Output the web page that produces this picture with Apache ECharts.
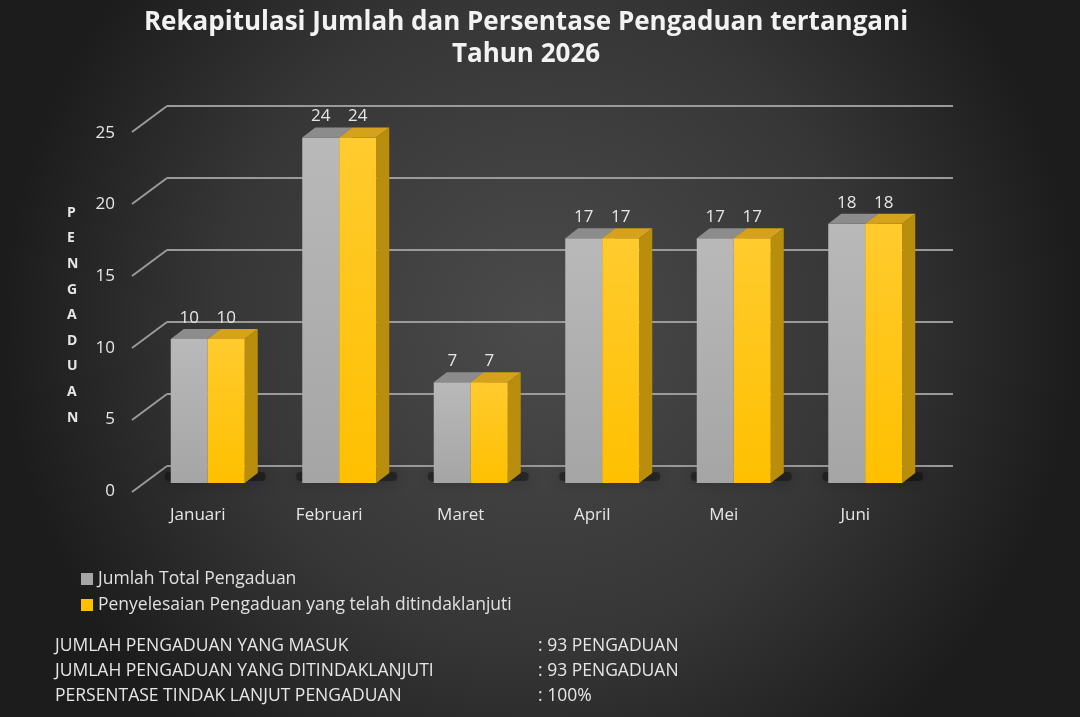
<!DOCTYPE html>
<html><head><meta charset="utf-8">
<script src="https://cdn.jsdelivr.net/npm/echarts@6/dist/echarts.min.js"></script>
<style>html,body{margin:0;padding:0;background:#2a2a2a}#c{width:1080px;height:717px}</style>
</head><body><div id="c"></div>
<script>
const categories = ['Januari','Februari','Maret','April','Mei','Juni'];
const totalPengaduan = [10,24,7,17,17,18];
const ditindaklanjuti = [10,24,7,17,17,18];
const yTicks = [0,5,10,15,20,25];
const seriesNames = ['Jumlah Total Pengaduan','Penyelesaian Pengaduan yang telah ditindaklanjuti'];
const statLabels = ['JUMLAH PENGADUAN YANG MASUK','JUMLAH PENGADUAN YANG DITINDAKLANJUTI','PERSENTASE TINDAK LANJUT PENGADUAN'];
const statValues = [': 93 PENGADUAN',': 93 PENGADUAN',': 100%'];
const titleText = 'Rekapitulasi Jumlah dan Persentase Pengaduan tertangani\nTahun 2026';
const axisTitle = 'PENGADUAN';

const chart = echarts.init(document.getElementById('c'));
const BW = 37, DX = 13, DY = 10;
const faces = [
  {front:['#b9b9b9','#a5a5a5'], top:'#8c8c8c', side:'#7d7d7d', off:-1},
  {front:['#ffcb2e','#ffc000'], top:'#d6a21c', side:'#b88e0c', off:0}
];
function barRender(si){
  return function(params, api){
    const idx = api.value(0), v = api.value(1);
    const p = api.coord([idx, v]);
    const b = api.coord([idx, 0]);
    const f = faces[si];
    const x0 = p[0] + f.off*BW, x1 = x0 + BW, yt = p[1], yb = b[1];
    const children = [];
    if (si === 0) {
      children.push({type:'rect', shape:{x:x0-6, y:yb-11, width:2*BW+DX+14, height:9, r:4},
        style:{fill:'rgba(0,0,0,0.35)', shadowBlur:16, shadowColor:'rgba(0,0,0,0.9)'}, silent:true});
    }
    children.push({type:'polygon', shape:{points:[[x1,yt],[x1+DX,yt-DY],[x1+DX,yb-DY],[x1,yb]]}, style:{fill:f.side}});
    children.push({type:'rect', shape:{x:x0, y:yt, width:BW, height:yb-yt},
      style:{fill:new echarts.graphic.LinearGradient(0,0,0,1,[{offset:0,color:f.front[0]},{offset:1,color:f.front[1]}])}});
    children.push({type:'polygon', shape:{points:[[x0,yt],[x1,yt],[x1+DX,yt-DY],[x0+DX,yt-DY]]}, style:{fill:f.top}});
    children.push({type:'text', style:{text:String(v), x:x0+BW/2, y:yt-21, align:'center', verticalAlign:'middle',
      fill:'#e6e6e6', font:'17px "Open Sans", sans-serif'}});
    return {type:'group', children};
  };
}

const option = {
  backgroundColor: new echarts.graphic.RadialGradient(0.5,0.45,0.75,[{offset:0,color:'#4b4b4b'},{offset:0.6,color:'#363636'},{offset:1,color:'#1c1c1c'}]),
  title: {text:titleText, left:521, top:2, textAlign:'center',
    textStyle:{color:'#f2f2f2', fontSize:26, fontWeight:'bold', fontFamily:'Open Sans', lineHeight:32}},
  legend: {orient:'vertical', left:76, top:565, itemWidth:12, itemHeight:12, itemGap:8, icon:'rect',
    textStyle:{color:'#e0e0e0', fontSize:17.5, fontFamily:'Open Sans'}, data:seriesNames},
  grid: [
    {left:167, right:127, top:106, bottom:251},
    {left:142, right:149, top:123, bottom:234},
    {left:132, right:159, top:133, bottom:226}
  ],
  xAxis: [
    {gridIndex:0, type:'category', data:categories, show:false},
    {gridIndex:1, type:'category', data:categories, show:false},
    {gridIndex:2, type:'category', data:categories, axisLine:{show:false}, axisTick:{show:false},
      axisLabel:{color:'#e6e6e6', fontSize:17, fontFamily:'Open Sans', margin:16}}
  ],
  yAxis: [
    {gridIndex:0, type:'value', min:0, max:25, interval:5, axisLabel:{show:false}, axisLine:{show:false}, axisTick:{show:false},
      splitLine:{lineStyle:{color:'#9a9a9a', width:2}}},
    {gridIndex:1, type:'value', min:0, max:25, interval:5, show:false, splitLine:{show:false}},
    {gridIndex:2, type:'value', min:0, max:25, interval:5, axisLine:{show:false}, axisTick:{show:false}, splitLine:{show:false},
      axisLabel:{color:'#e6e6e6', fontSize:17, fontFamily:'Open Sans', margin:17}}
  ],
  series: [
    {type:'custom', name:'diag', xAxisIndex:0, yAxisIndex:0, data:yTicks.map(v=>[0,v]), silent:true, z:1,
      renderItem:function(params, api){
        const y = api.coord([0, api.value(1)])[1];
        const x = params.coordSys.x;
        return {type:'line', shape:{x1:x, y1:y, x2:x-35, y2:y+26}, style:{stroke:'#9a9a9a', lineWidth:2}};
      }},
    {type:'custom', name:seriesNames[0], xAxisIndex:1, yAxisIndex:1, itemStyle:{color:'#a6a6a6'}, z:2,
      data:totalPengaduan.map((v,i)=>[i,v]), renderItem:barRender(0)},
    {type:'custom', name:seriesNames[1], xAxisIndex:1, yAxisIndex:1, itemStyle:{color:'#ffc000'}, z:3,
      data:ditindaklanjuti.map((v,i)=>[i,v]), renderItem:barRender(1)}
  ],
  graphic: [
    {type:'text', left:67, top:200, style:{text:axisTitle.split('').join('\n'), fill:'#e6e6e6',
      font:'bold 14px "Open Sans", sans-serif', lineHeight:25.6, align:'center'}},
    ...statLabels.map((t,i)=>({type:'text', left:55, top:637+i*25, style:{text:t, fill:'#e6e6e6', font:'17.5px "Open Sans", sans-serif'}})),
    ...statValues.map((t,i)=>({type:'text', left:538, top:637+i*25, style:{text:t, fill:'#e6e6e6', font:'17.5px "Open Sans", sans-serif'}}))
  ]
};
chart.setOption(option);
</script></body></html>
